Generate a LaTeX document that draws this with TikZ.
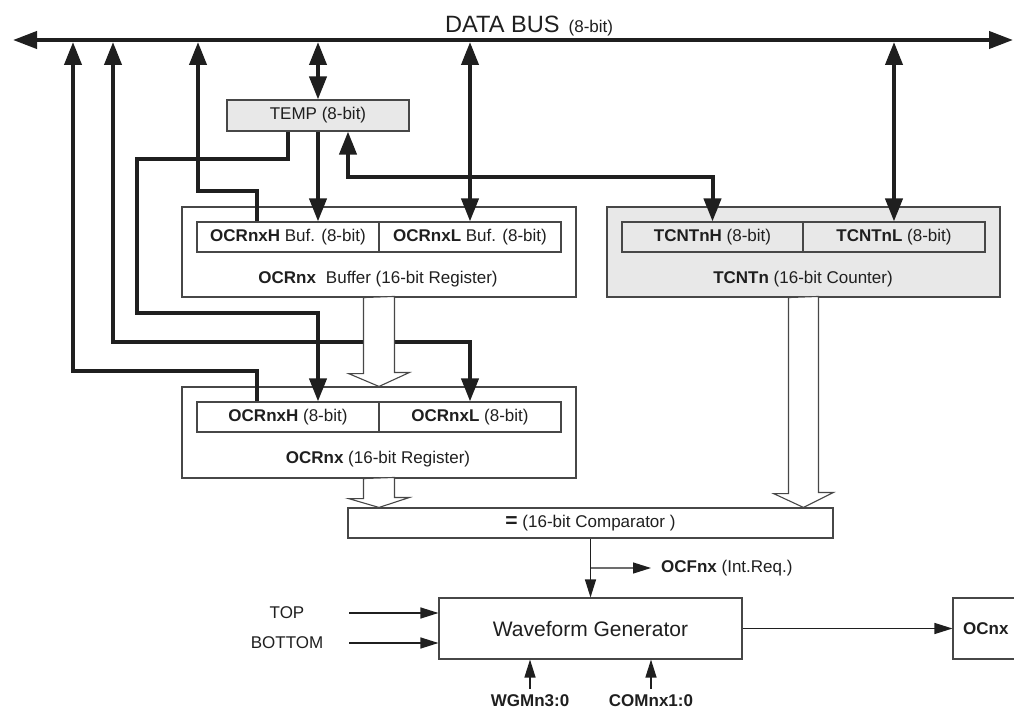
\documentclass[tikz,border=0pt]{standalone}
\usepackage{fontspec}
\setmainfont{Liberation Sans}
\usetikzlibrary{arrows.meta,calc}
\definecolor{regfill}{gray}{0.91}
\definecolor{lncol}{gray}{0.12}
\definecolor{boxcol}{gray}{0.28}
\begin{document}
\begin{tikzpicture}[x=1pt,y=-1pt,
  bigtip/.tip={Triangle[length=23pt,width=17pt]},
  bustip/.tip={Triangle[length=24pt,width=17pt]},
  smalltip/.tip={Triangle[length=18pt,width=11pt]},
  fat/.style={line width=4pt, draw=lncol},
  slim/.style={line width=1.3pt, draw=lncol},
  regbox/.style={draw=boxcol, line width=1.1pt, inner sep=0pt, text=lncol,
    font=\fontsize{17}{20}\selectfont},
  txt/.style={inner sep=0pt, text=lncol, font=\fontsize{17}{20}\selectfont},
  hollow/.style={draw=boxcol, line width=1.1pt, fill=white, line join=miter}
]
\useasboundingbox (0,0) rectangle (1014,711);

% ---------- registers ----------
\node[regbox, fill=regfill, minimum width=182pt, minimum height=31pt] (temp) at (318,115.5) {TEMP (8-bit)};

\node[regbox, minimum width=394pt, minimum height=90pt] (bufbox) at (379,252) {};
\node[regbox, minimum width=182pt, minimum height=30pt] (bufH) at (288,237) {\textbf{OCRnxH} Buf. (8-bit)};
\node[regbox, minimum width=182pt, minimum height=30pt] (bufL) at (470,237) {\textbf{OCRnxL} Buf. (8-bit)};
\node[txt] (buflbl) at (378,279) {\textbf{OCRnx}\hspace{10pt}Buffer (16-bit Register)};

\node[regbox, fill=regfill, minimum width=393pt, minimum height=90pt] (tcnt) at (803.5,252) {};
\node[regbox, fill=regfill, minimum width=181pt, minimum height=30pt] (tcH) at (712.5,237) {\textbf{TCNTnH} (8-bit)};
\node[regbox, fill=regfill, minimum width=182pt, minimum height=30pt] (tcL) at (894,237) {\textbf{TCNTnL} (8-bit)};
\node[txt] (tclbl) at (803,279) {\textbf{TCNTn} (16-bit Counter)};

\node[regbox, minimum width=394pt, minimum height=91pt] (ocr) at (379,432.5) {};
\node[regbox, minimum width=182pt, minimum height=30pt] (ocrH) at (288,417) {\textbf{OCRnxH} (8-bit)};
\node[regbox, minimum width=182pt, minimum height=30pt] (ocrL) at (470,417) {\textbf{OCRnxL} (8-bit)};
\node[txt] (ocrlbl) at (378,459) {\textbf{OCRnx} (16-bit Register)};

\node[regbox, minimum width=485pt, minimum height=30pt] (cmp) at (590.5,523)
  {{\fontsize{21}{20}\selectfont\textbf{=}} (16-bit Comparator )};

\node[regbox, minimum width=303pt, minimum height=61pt, font=\fontsize{21}{24}\selectfont] (wave) at (590.5,628.5) {Waveform Generator};

\node[regbox, minimum width=67pt, minimum height=61pt] (ocnxbox) at (986.5,628.5) {};
\node[txt, anchor=west] (ocnxlbl) at (963,628.5) {\textbf{OCnx}};

% ---------- data bus ----------
\coordinate (busL) at (13,40);
\coordinate (busR) at (1013,40);
\draw[fat, bustip-bustip] (busL) -- (busR);
\node[anchor=base west, inner sep=0pt, text=lncol] (buslbl) at (445,33)
  {\fontsize{23.6}{28}\selectfont DATA BUS\hspace{9pt}\fontsize{17}{20}\selectfont(8-bit)};
\coordinate (busb) at (0,42);
\coordinate (b1) at (73,42);
\coordinate (b2) at (113,42);
\coordinate (b4) at (198,42);

% ---------- thick connectors ----------
\draw[fat,-bigtip] ([xshift=61pt]ocrH.north west) -- ++(0,-30) -| (b1);
\draw[fat,bigtip-bigtip] (b2) |- ([yshift=59pt]ocrL.north) -- (ocrL.north);
\draw[fat,-bigtip] ([xshift=-30pt]temp.south) -- ++(0,27) -- ++(-151,0) -- ++(0,154) -| ([xshift=30pt]ocrH.north);
\draw[fat,-bigtip] ([xshift=61pt]bufH.north west) -- ++(0,-30) -| (b4);
\draw[fat,bigtip-bigtip] (temp.north |- busb) -- (temp.north);
\draw[fat,-bigtip] (temp.south) -- ([xshift=30pt]bufH.north);
\draw[fat,bigtip-bigtip] ([xshift=30pt]temp.south) -- ++(0,45) -| (tcH.north);
\draw[fat,bigtip-bigtip] (bufL.north |- busb) -- (bufL.north);
\draw[fat,bigtip-bigtip] (tcL.north |- busb) -- (tcL.north);

% ---------- hollow (16-bit) arrows ----------
\draw[hollow] ([xshift=-15.5pt]bufbox.south) -- ++(0,76) -- ++(-15,0) -- (ocr.north)
  -- ++(30.5,-14) -- ++(-15,0) -- ++(0,-76) -- cycle;
\draw[hollow] ([xshift=-15.5pt]ocr.south) -- ++(0,20) -- ++(-15,0) -- (ocr.south |- cmp.north)
  -- ++(30.5,-10) -- ++(-15,0) -- ++(0,-20) -- cycle;
\draw[hollow] ([xshift=-15pt]tcnt.south) -- ++(0,196) -- ++(-15,0) -- (tcnt.south |- cmp.north)
  -- ++(30,-15) -- ++(-15,0) -- ++(0,-196) -- cycle;

% ---------- thin connectors ----------
\node[txt, anchor=west] (ocflbl) at (661,568) {\textbf{OCFnx} (Int.Req.)};
\draw[slim,-smalltip] (cmp.south) -- (wave.north);
\coordinate (brk) at ($(cmp.south)!0.5!(wave.north)$);
\draw[slim,-smalltip] (brk) -- ([xshift=-10pt]ocflbl.west);

\node[txt] (toplbl) at (287,613) {TOP};
\node[txt] (botlbl) at (287,643) {BOTTOM};
\coordinate (inx) at (349,0);
\draw[slim,-smalltip] (toplbl -| inx) -- (toplbl -| wave.west);
\draw[slim,-smalltip] (botlbl -| inx) -- (botlbl -| wave.west);

\node[txt] (wgm) at (530,701) {\textbf{WGMn3:0}};
\node[txt] (com) at (651,701) {\textbf{COMnx1:0}};
\draw[slim,-smalltip] ([yshift=6pt]wgm.north) -- (wgm.north |- wave.south);
\draw[slim,-smalltip] ([yshift=6pt]com.north) -- (com.north |- wave.south);

\draw[slim,-smalltip] (wave.east) -- (ocnxbox.west);
\end{tikzpicture}
\end{document}
